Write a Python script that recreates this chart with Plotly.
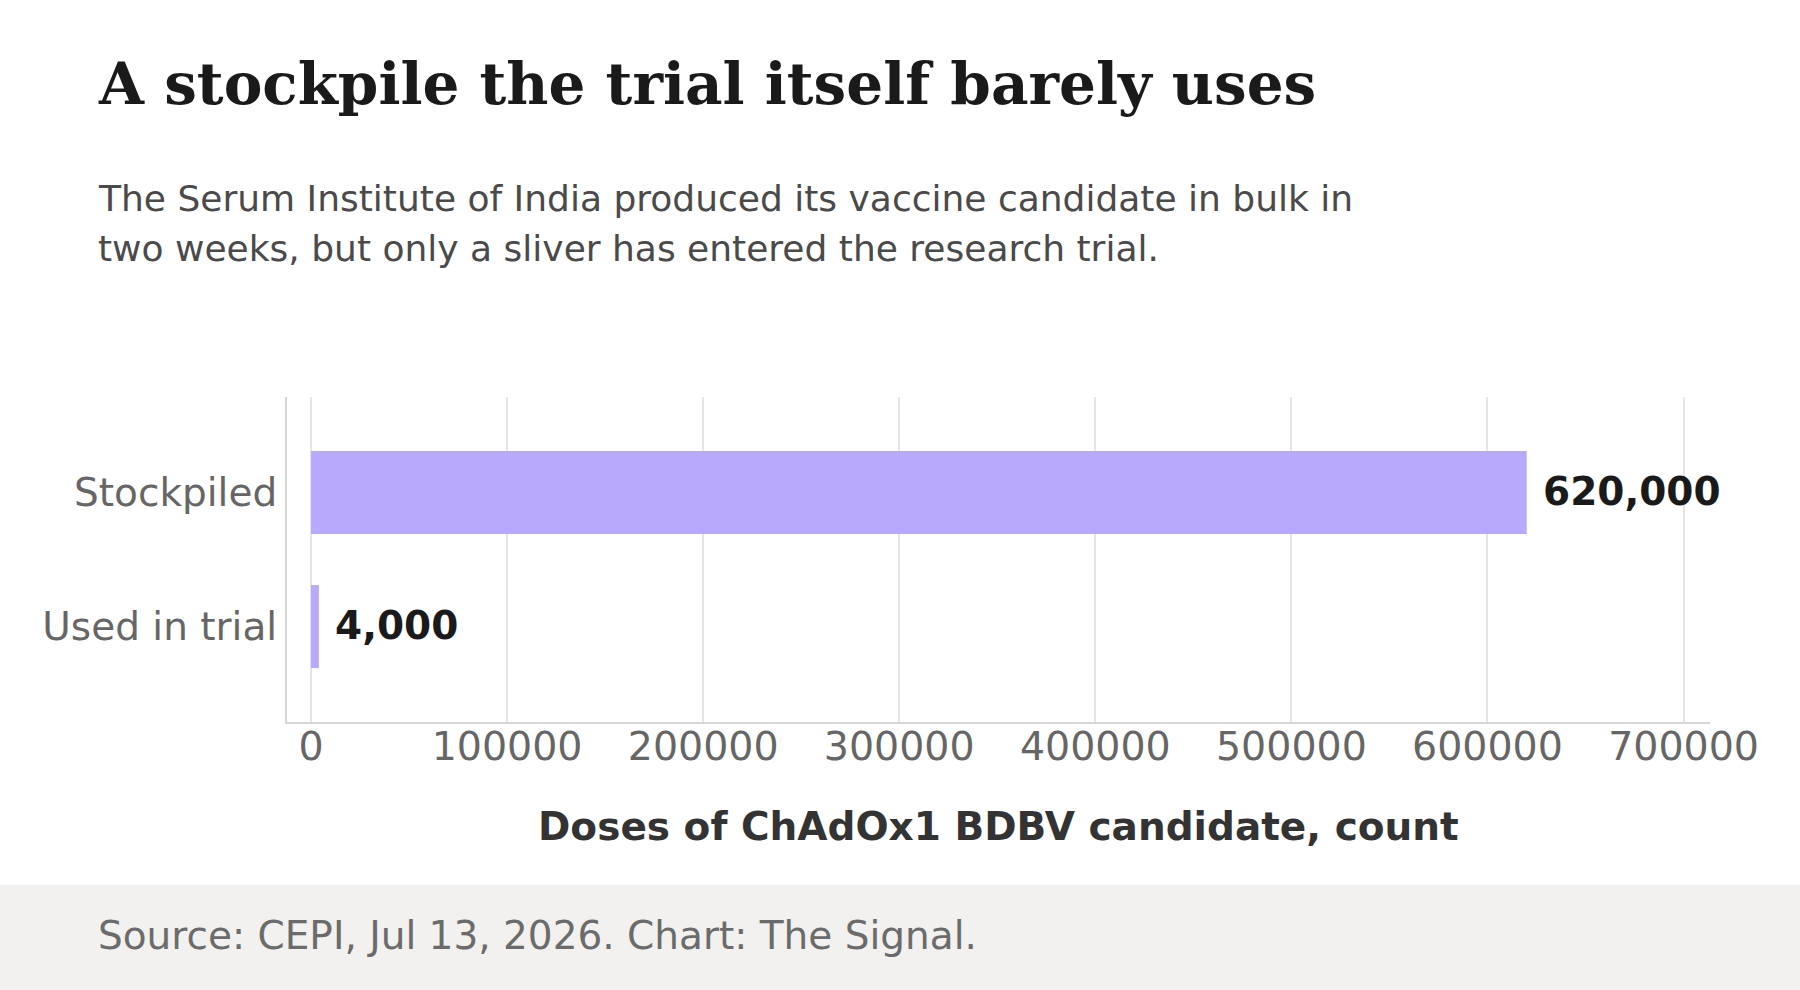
import plotly.graph_objects as go

# chart data
categories = ["Stockpiled", "Used in trial"]
doses = [620000, 4000]
x_ticks = [0, 100000, 200000, 300000, 400000, 500000, 600000, 700000]

title_text = "A stockpile the trial itself barely uses"
subtitle_lines = ["The Serum Institute of India produced its vaccine candidate in bulk in",
                  "two weeks, but only a sliver has entered the research trial."]
axis_title = "Doses of ChAdOx1 BDBV candidate, count"
source_text = "Source: CEPI, Jul 13, 2026. Chart: The Signal."

W, H = 1800, 990
L, R, T, B = 287, 90, 397, 268
PW, PH = W - L - R, H - T - B

SANS = "DejaVu Sans"
SERIF = "DejaVu Serif"
TEXT_X = 96


def px(x):
    # pixel from left -> paper x
    return (x - L) / PW


def py(y):
    # pixel from top -> paper y
    return (H - B - y) / PH


fig = go.Figure()
fig.add_trace(go.Bar(
    x=doses,
    y=categories,
    orientation="h",
    marker=dict(color="#b8a9fd", line=dict(width=0)),
    width=0.62,
    hoverinfo="skip",
))

# value labels just past the bar ends
for cat, val in zip(categories, doses):
    fig.add_annotation(
        x=val, y=cat, xref="x", yref="y",
        text=f"<b>{val:,}</b>",
        showarrow=False, xanchor="left", yanchor="middle",
        xshift=14, yshift=1,
        font=dict(family=SANS, size=39, color="#1a1a1a"),
    )

# headline + dek
fig.add_annotation(
    x=px(TEXT_X), y=py(84), xref="paper", yref="paper",
    text=f"<b>{title_text}</b>", showarrow=False,
    xanchor="left", yanchor="middle", align="left",
    font=dict(family=SERIF, size=58, color="#1a1a1a"),
)
for i, line in enumerate(subtitle_lines):
    fig.add_annotation(
        x=px(TEXT_X), y=py(198 + 50.5 * i), xref="paper", yref="paper",
        text=line, showarrow=False,
        xanchor="left", yanchor="middle", align="left",
        font=dict(family=SANS, size=36, color="#4a4a4a"),
    )

# axis title
fig.add_annotation(
    x=0.5, y=py(826), xref="paper", yref="paper",
    text=f"<b>{axis_title}</b>", showarrow=False,
    xanchor="center", yanchor="middle",
    font=dict(family=SANS, size=39, color="#333333"),
)

# footer band
fig.add_shape(
    type="rect", xref="paper", yref="paper",
    x0=px(0), x1=px(W), y0=py(H), y1=py(885),
    fillcolor="#f2f1ef", line=dict(width=0), layer="below",
)
fig.add_annotation(
    x=px(TEXT_X), y=py(935), xref="paper", yref="paper",
    text=source_text, showarrow=False,
    xanchor="left", yanchor="middle", align="left",
    font=dict(family=SANS, size=39, color="#6b6b6b"),
)

fig.update_layout(
    width=W, height=H,
    margin=dict(l=L, r=R, t=T, b=B),
    paper_bgcolor="white",
    plot_bgcolor="white",
    showlegend=False,
    font=dict(family=SANS, color="#666666"),
    xaxis=dict(
        range=[-12250, 713500],
        tickvals=x_ticks,
        tickformat="d",
        showgrid=True, gridcolor="#e6e6e6", gridwidth=1.5,
        zeroline=False,
        showline=True, linecolor="#d6d6d4", linewidth=2,
        ticks="",
        ticklabelstandoff=-11,
        tickfont=dict(family=SANS, size=39.5, color="#666666"),
    ),
    yaxis=dict(
        categoryorder="array", categoryarray=categories,
        range=[1.7125, -0.7125],
        showgrid=False, zeroline=False,
        showline=True, linecolor="#d6d6d4", linewidth=2,
        ticks="",
        ticklabelstandoff=0,
        tickfont=dict(family=SANS, size=39, color="#666666"),
    ),
)

fig.write_html("out.html", config={"displayModeBar": False},
               post_script="document.body.style.margin = '0';")
